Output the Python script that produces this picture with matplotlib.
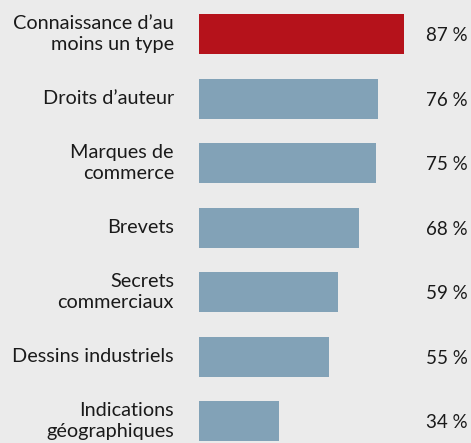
import matplotlib
matplotlib.use("Agg")
import matplotlib.pyplot as plt

# ---- data --------------------------------------------------------------------
labels = ["Connaissance d\u2019au\nmoins un type", "Droits d\u2019auteur",
          "Marques de\ncommerce", "Brevets", "Secrets\ncommerciaux",
          "Dessins industriels", "Indications\ng\u00e9ographiques"]
values = [87, 76, 75, 68, 59, 55, 34]
value_labels = ["87 %", "76 %", "75 %", "68 %", "59 %", "55 %", "34 %"]

# ---- style -------------------------------------------------------------------
bg = "#ebebeb"
red = "#b5121b"
blue = "#82a2b7"
txt = "#1a1a1a"
plt.rcParams["font.family"] = ["Lato", "DejaVu Sans"]

W, H = 471, 443
fig = plt.figure(figsize=(W / 100, H / 100), dpi=100, facecolor=bg)
x0 = 199
ax = fig.add_axes([x0 / W, 0, 1 - x0 / W, 1])
ax.set_facecolor(bg)

px_per_pct = 2.36
ax.set_xlim(0, (W - x0) / px_per_pct)
pitch = 64.5
first = 34
ax.set_ylim((H - first) / pitch, -first / pitch)

ypos = list(range(len(values)))
colors = [red] + [blue] * (len(values) - 1)
ax.barh(ypos, values, height=40 / pitch, color=colors, linewidth=0)

for y, lab, vl in zip(ypos, labels, value_labels):
    ax.text(-25 / px_per_pct, y, lab, ha="right", va="center", fontsize=14.3,
            color=txt, linespacing=1.22, clip_on=False)
    ax.text((468 - x0) / px_per_pct, y + 0.03, vl, ha="right", va="center",
            fontsize=13.5, color=txt)

ax.axis("off")
fig.savefig("out.png", dpi=100, facecolor=bg)
